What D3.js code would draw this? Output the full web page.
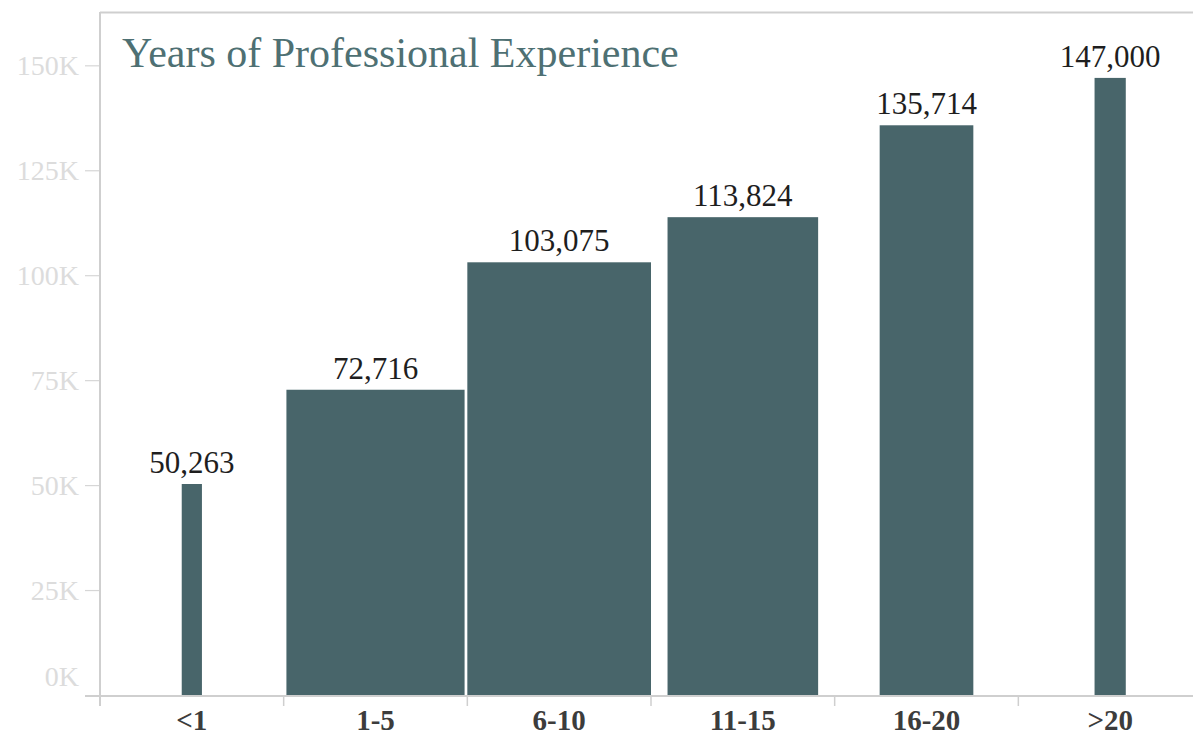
<!DOCTYPE html>
<html>
<head>
<meta charset="utf-8">
<script src="https://cdn.jsdelivr.net/npm/d3@7"></script>
<style>
  html, body { margin: 0; padding: 0; background: #fff; }
  svg { display: block; }
  text { font-family: "Liberation Serif", "Times New Roman", serif; }
</style>
</head>
<body>
<svg id="chart" width="1193" height="738"></svg>
<script>
// ---- data ----
const categories = ["<1", "1-5", "6-10", "11-15", "16-20", ">20"];
const salaries = [50263, 72716, 103075, 113824, 135714, 147000];
// relative size of each group (largest group = 100), drives bar width
const respondentShare = [11, 97, 100, 82, 51, 17];
const yTickValues = [0, 25000, 50000, 75000, 100000, 125000, 150000];
const yTickLabels = ["0K", "25K", "50K", "75K", "100K", "125K", "150K"];
const chartTitle = "Years of Professional Experience";

(function () {
  // ---- layout ----
  const svg = d3.select("#chart");
  const mLeft = 100, mRight = 1202, mTop = 12, mBottom = 695;

  const x = d3.scaleBand().domain(categories).range([mLeft, mRight]).padding(0);
  const y = d3.scaleLinear().domain([0, 162700]).range([mBottom, mTop]);
  const w = d3.scaleLinear().domain([0, 100]).range([0, x.bandwidth()]);

  const barColor = "#48656a";
  const axisColor = "#cfcfcf";

  // frame: top line
  svg.append("line")
    .attr("x1", mLeft).attr("x2", 1193).attr("y1", mTop + 0.5).attr("y2", mTop + 0.5)
    .attr("stroke", axisColor).attr("stroke-width", 2);

  // y axis
  const yAxis = d3.axisLeft(y)
    .tickValues(yTickValues)
    .tickFormat((d, i) => yTickLabels[i])
    .tickSize(15).tickPadding(6);
  const gy = svg.append("g").attr("transform", `translate(${mLeft},0)`).call(yAxis);
  gy.select(".domain").remove();
  gy.selectAll(".tick line").attr("stroke", "#d6d6d6").attr("stroke-width", 1.2);
  gy.selectAll(".tick text")
    .attr("fill", "#dcdcdc")
    .attr("font-size", 28)
    .attr("font-family", "Liberation Serif, serif");
  gy.selectAll(".tick").filter(d => d === 0).select("line").remove();
  gy.selectAll(".tick").filter(d => d === 0).select("text").attr("dy", "-0.35em");

  svg.append("line")
    .attr("x1", mLeft).attr("x2", mLeft).attr("y1", mTop).attr("y2", mBottom + 11)
    .attr("stroke", axisColor).attr("stroke-width", 2);

  // bars
  const data = categories.map((c, i) => ({ c, v: salaries[i], s: respondentShare[i] }));
  svg.append("g").selectAll("rect").data(data).join("rect")
    .attr("x", d => x(d.c) + x.bandwidth() / 2 - w(d.s) / 2)
    .attr("width", d => w(d.s))
    .attr("y", d => y(d.v))
    .attr("height", d => y(0) - y(d.v))
    .attr("fill", barColor);

  // value labels
  svg.append("g").selectAll("text").data(data).join("text")
    .attr("x", d => x(d.c) + x.bandwidth() / 2)
    .attr("y", d => y(d.v) - 11)
    .attr("text-anchor", "middle")
    .attr("font-size", 31)
    .attr("fill", "#1e1e1e")
    .text(d => d3.format(",")(d.v));

  // x axis
  svg.append("line")
    .attr("x1", 85).attr("x2", 1193).attr("y1", mBottom + 1).attr("y2", mBottom + 1)
    .attr("stroke", axisColor).attr("stroke-width", 2);
  const boundaries = categories.map(c => x(c)).concat([x.range()[1]]);
  svg.append("g").selectAll("line").data(boundaries.slice(1)).join("line")
    .attr("x1", d => d).attr("x2", d => d)
    .attr("y1", mBottom + 1).attr("y2", mBottom + 11)
    .attr("stroke", axisColor).attr("stroke-width", 1.5);

  const xAxis = d3.axisBottom(x).tickSize(0).tickPadding(0);
  const gx = svg.append("g").attr("transform", `translate(0,${mBottom})`).call(xAxis);
  gx.select(".domain").remove();
  gx.selectAll(".tick text")
    .attr("y", 35)
    .attr("dy", 0)
    .attr("font-size", 29)
    .attr("font-weight", "bold")
    .attr("fill", "#3c3c3c")
    .attr("font-family", "Liberation Serif, serif");

  // title
  svg.append("text")
    .attr("x", 122).attr("y", 67)
    .attr("font-size", 42)
    .attr("fill", "#4e7073")
    .text(chartTitle);
})();
</script>
</body>
</html>
